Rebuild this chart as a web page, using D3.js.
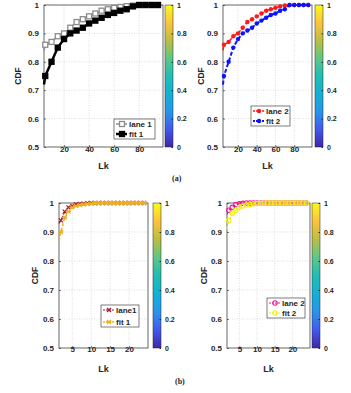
<!DOCTYPE html>
<html>
<head>
<meta charset="utf-8">
<script src="https://cdn.jsdelivr.net/npm/d3@7"></script>
<style>
  body { margin: 0; background: #fff; }
  text { font-family: "Liberation Sans", Arial, sans-serif; font-weight: bold; fill: #262626; }
</style>
</head>
<body>
<div id="chart"></div>
<script>
// values
var lkTop = [4, 5, 10, 15, 20, 25, 30, 35, 40, 45, 50, 55, 60, 65, 70, 75, 80, 85, 90, 95];
var lane1Top = [0.84, 0.86, 0.87, 0.89, 0.90, 0.92, 0.94, 0.95, 0.96, 0.97, 0.98, 0.985, 0.99, 0.993, 0.996, 0.998, 1, 1, 1, 1];
var fit1Top = [0.72, 0.75, 0.80, 0.85, 0.88, 0.90, 0.91, 0.92, 0.935, 0.945, 0.955, 0.965, 0.972, 0.98, 0.985, 0.995, 1, 1, 1, 1];
var lane2Top = [0.84, 0.86, 0.87, 0.89, 0.90, 0.92, 0.94, 0.95, 0.96, 0.97, 0.98, 0.985, 0.99, 0.995, 0.998, 1, 1, 1, 1, 1];
var fit2Top = [0.72, 0.75, 0.80, 0.85, 0.88, 0.90, 0.91, 0.92, 0.935, 0.945, 0.955, 0.965, 0.97, 0.98, 0.985, 1, 1, 1, 1, 1];

var lkBot = [1.5, 2, 3, 4, 5, 6, 7, 8, 9, 10, 11, 12, 13, 14, 15, 16, 17, 18, 19, 20, 21, 22, 23, 24];
var lane1Bot = [0.93, 0.94, 0.97, 0.985, 0.99, 0.995, 0.997, 0.998, 0.999, 1, 1, 1, 1, 1, 1, 1, 1, 1, 1, 1, 1, 1, 1, 1];
var fit1Bot = [0.87, 0.90, 0.95, 0.97, 0.985, 0.99, 0.993, 0.995, 0.997, 0.998, 0.999, 0.999, 1, 1, 1, 1, 1, 1, 1, 1, 1, 1, 1, 1];
var lane2Bot = [0.96, 0.975, 0.985, 0.995, 0.997, 0.999, 1, 1, 1, 1, 1, 1, 1, 1, 1, 1, 1, 1, 1, 1, 1, 1, 1, 1];
var fit2Bot = [0.91, 0.94, 0.965, 0.975, 0.985, 0.99, 0.993, 0.995, 0.997, 0.998, 0.999, 0.999, 1, 1, 1, 1, 1, 1, 1, 1, 1, 1, 1, 1];

var yTicks = [0.5, 0.6, 0.7, 0.8, 0.9, 1];
var xTicksTop = [20, 40, 60, 80];
var xTicksBot = [5, 10, 15, 20];
var cbTicks = [0, 0.2, 0.4, 0.6, 0.8, 1];
var parulaStops = ["#3e26a8", "#4358f0", "#2796eb", "#11b1d6", "#20beb4", "#5cc884", "#bdbe40", "#fdc33d", "#f9fb15"];

var width = 351, height = 393;

var svg = d3.select('#chart')
  .append('svg')
  .attr('width', width)
  .attr('height', height)

var defs = svg.append('defs');
var grad = defs.append('linearGradient')
  .attr('id', 'parula')
  .attr('x1', 0).attr('y1', 1).attr('x2', 0).attr('y2', 0);
parulaStops.forEach(function (c, i) {
  grad.append('stop')
    .attr('offset', i / (parulaStops.length - 1))
    .attr('stop-color', c);
});

var panels = [
  { x0: 44, x1: 163, y0: 5, y1: 147, dom: [4, 99], ticks: xTicksTop, cbx: 165, cdfX: 21, lkY: 169, tickY: 159,
    leg: { x: 114, y: 119, w: 41, h: 20 },
    series: [
      { name: "lane 1", xs: lkTop, ys: lane1Top, color: "#8c8c8c", marker: "square", fill: "#fff", dash: null, lw: 1.5 },
      { name: "fit 1", xs: lkTop, ys: fit1Top, color: "#000", marker: "square", fill: "#000", dash: null, lw: 2.5 }
    ] },
  { x0: 223, x1: 312, y0: 5, y1: 147, dom: [4, 99], ticks: xTicksTop, cbx: 315, cdfX: 204, lkY: 169, tickY: 159,
    leg: { x: 251, y: 106, w: 39, h: 20 },
    series: [
      { name: "lane 2", xs: lkTop, ys: lane2Top, color: "#ff1a1a", marker: "dot", fill: "#ff1a1a", dash: "4,2", lw: 1.5 },
      { name: "fit 2", xs: lkTop, ys: fit2Top, color: "#0a14ff", marker: "dot", fill: "#0a14ff", dash: "4,2", lw: 2 }
    ] },
  { x0: 59, x1: 148, y0: 203, y1: 348, dom: [1.5, 25], ticks: xTicksBot, cbx: 153, cdfX: 38, lkY: 372, tickY: 359,
    leg: { x: 101, y: 305, w: 38, h: 22 },
    series: [
      { name: "lane1", xs: lkBot, ys: lane1Bot, color: "#a2142f", marker: "cross", fill: "none", dash: "3,2", lw: 1.2 },
      { name: "fit 1", xs: lkBot, ys: fit1Bot, color: "#edb120", marker: "star", fill: "none", dash: "3,2", lw: 1.5 }
    ] },
  { x0: 227, x1: 310, y0: 203, y1: 348, dom: [1.5, 25], ticks: xTicksBot, cbx: 312, cdfX: 207, lkY: 372, tickY: 359,
    leg: { x: 267, y: 298, w: 38, h: 20 },
    series: [
      { name: "lane 2", xs: lkBot, ys: lane2Bot, color: "#e8189a", marker: "circle", fill: "none", dash: "3,2", lw: 1.2 },
      { name: "fit 2", xs: lkBot, ys: fit2Bot, color: "#f5f000", marker: "circle", fill: "none", dash: "3,2", lw: 1.2 }
    ] }
];

function drawMarker(g, type, cx, cy, color, fill) {
  if (type == "square") {
    g.append('rect').attr('x', cx - 2.5).attr('y', cy - 2.5).attr('width', 5).attr('height', 5)
      .attr('fill', fill).attr('stroke', color).attr('stroke-width', 1.3);
  } else if (type == "dot") {
    g.append('circle').attr('cx', cx).attr('cy', cy).attr('r', 2.2).attr('fill', fill);
  } else if (type == "circle") {
    g.append('circle').attr('cx', cx).attr('cy', cy).attr('r', 2.2)
      .attr('fill', 'none').attr('stroke', color).attr('stroke-width', 1.1);
  } else if (type == "cross" || type == "star") {
    var s = 2;
    var p = "M" + (cx - s) + "," + (cy - s) + "L" + (cx + s) + "," + (cy + s) +
      "M" + (cx - s) + "," + (cy + s) + "L" + (cx + s) + "," + (cy - s);
    if (type == "star") p += "M" + (cx - s - 0.5) + "," + cy + "L" + (cx + s + 0.5) + "," + cy;
    g.append('path').attr('d', p).attr('stroke', color).attr('stroke-width', 1.2).attr('fill', 'none');
  }
}

panels.forEach(function (p) {
  var x = d3.scaleLinear().domain(p.dom).range([p.x0, p.x1]);
  var y = d3.scaleLinear().domain([0.5, 1]).range([p.y1, p.y0]);
  var g = svg.append('g');

  g.append('rect').attr('x', p.x0).attr('y', p.y0)
    .attr('width', p.x1 - p.x0).attr('height', p.y1 - p.y0).attr('fill', '#fff');

  // grid
  g.selectAll('.gx').data(p.ticks).join('line')
    .attr('x1', d => x(d)).attr('x2', d => x(d)).attr('y1', p.y0).attr('y2', p.y1)
    .attr('stroke', '#c8c8c8').attr('stroke-width', 0.6).attr('stroke-dasharray', '1,1.5');
  g.selectAll('.gy').data(yTicks.slice(1, -1)).join('line')
    .attr('y1', d => y(d)).attr('y2', d => y(d)).attr('x1', p.x0).attr('x2', p.x1)
    .attr('stroke', '#c8c8c8').attr('stroke-width', 0.6).attr('stroke-dasharray', '1,1.5');

  // axes via d3 axis, ticks pointing inward
  g.append('g').attr('transform', 'translate(0,' + p.y1 + ')')
    .call(d3.axisBottom(x).tickValues(p.ticks).tickSize(-2).tickPadding(4).tickFormat(d3.format('d')))
    .call(a => a.select('.domain').remove())
    .call(a => a.selectAll('text').attr('font-size', 8).attr('y', p.tickY - p.y1 - 7).attr('dy', 0))
    .call(a => a.selectAll('line').attr('stroke', '#262626').attr('stroke-width', 0.6));
  g.append('g').attr('transform', 'translate(' + p.x0 + ',0)')
    .call(d3.axisLeft(y).tickValues(yTicks).tickSize(-2).tickPadding(5).tickFormat(d => d == 1 ? "1" : d3.format('.1f')(d)))
    .call(a => a.select('.domain').remove())
    .call(a => a.selectAll('text').attr('font-size', 8))
    .call(a => a.selectAll('line').attr('stroke', '#262626').attr('stroke-width', 0.6));

  g.append('rect').attr('x', p.x0).attr('y', p.y0)
    .attr('width', p.x1 - p.x0).attr('height', p.y1 - p.y0)
    .attr('fill', 'none').attr('stroke', '#262626').attr('stroke-width', 0.7);

  // series
  var line = d3.line().x(d => x(d[0])).y(d => y(d[1]));
  p.series.forEach(function (s) {
    var pts = s.xs.map((v, i) => [v, s.ys[i]]);
    g.append('path').datum(pts).attr('d', line)
      .attr('fill', 'none').attr('stroke', s.color).attr('stroke-width', s.lw)
      .attr('stroke-dasharray', s.dash);
    pts.slice(1).forEach(function (d) {
      drawMarker(g, s.marker, x(d[0]), y(d[1]), s.color, s.fill);
    });
  });

  // legend
  var L = p.leg;
  g.append('rect').attr('x', L.x).attr('y', L.y).attr('width', L.w).attr('height', L.h)
    .attr('fill', '#fff').attr('stroke', '#262626').attr('stroke-width', 0.6);
  p.series.forEach(function (s, i) {
    var ly = L.y + 5 + i * (L.h - 10);
    g.append('line').attr('x1', L.x + 2).attr('x2', L.x + 13).attr('y1', ly).attr('y2', ly)
      .attr('stroke', s.color).attr('stroke-width', s.lw).attr('stroke-dasharray', s.dash ? "2,1" : null);
    drawMarker(g, s.marker, L.x + 8, ly, s.color, s.fill);
    g.append('text').attr('x', L.x + 15).attr('y', ly + 3).attr('font-size', 8).text(s.name);
  });

  // axis labels
  g.append('text').attr('x', (p.x0 + p.x1) / 2).attr('y', p.lkY)
    .attr('text-anchor', 'middle').attr('font-size', 9).text('Lk');
  g.append('text').attr('transform', 'translate(' + p.cdfX + ',' + ((p.y0 + p.y1) / 2) + ') rotate(-90)')
    .attr('text-anchor', 'middle').attr('font-size', 8.5).text('CDF');

  // colorbar
  var cb = d3.scaleLinear().domain([0, 1]).range([p.y1, p.y0]);
  g.append('rect').attr('x', p.cbx).attr('y', p.y0).attr('width', 8).attr('height', p.y1 - p.y0)
    .attr('fill', 'url(#parula)').attr('stroke', '#262626').attr('stroke-width', 0.5);
  g.append('g').attr('transform', 'translate(' + (p.cbx + 8) + ',0)')
    .call(d3.axisRight(cb).tickValues(cbTicks).tickSize(-1.5).tickPadding(4).tickFormat(d => d == 0 || d == 1 ? d : d3.format('.1f')(d)))
    .call(a => a.select('.domain').remove())
    .call(a => a.selectAll('text').attr('font-size', 7))
    .call(a => a.selectAll('line').attr('stroke', '#262626'));
});

svg.append('text').attr('x', 172).attr('y', 181)
  .style('font-family', '"Liberation Serif", "Times New Roman", serif').attr('font-size', 8).text('(a)');
svg.append('text').attr('x', 175).attr('y', 384)
  .style('font-family', '"Liberation Serif", "Times New Roman", serif').attr('font-size', 8).text('(b)');
</script>
</body>
</html>
